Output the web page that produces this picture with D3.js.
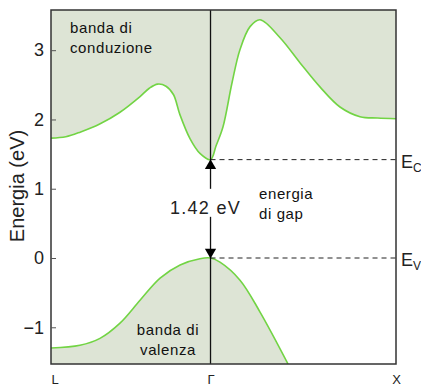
<!DOCTYPE html>
<html lang="it">
<head>
    <meta charset="UTF-8">
    <script src="https://cdn.jsdelivr.net/npm/d3@7/dist/d3.min.js"></script>
    <title>bande GaAs</title>
    <style>
        body { margin: 0; background: #fff; }
        text { font-family: "Liberation Sans", Arial, sans-serif; }
    </style>
</head>
<body>
<script>

    // vettore d'onda: L = -0.86, Gamma = 0, X = 1
    let kTicks = [-0.86, 0, 1],
        kLabels = ["L", "Γ", "X"],
        eTicks = [-1, 0, 1, 2, 3]

    let condK = [-0.86, -0.78, -0.70, -0.60, -0.49, -0.38, -0.33, -0.285, -0.24, -0.20, -0.165, -0.11, -0.057, 0,
        0.03, 0.067, 0.116, 0.159, 0.213, 0.267, 0.375, 0.482, 0.59, 0.698, 0.806, 0.9, 1.0]
    let condE = [1.73, 1.75, 1.82, 1.93, 2.1, 2.33, 2.45, 2.51, 2.48, 2.36, 2.07, 1.72, 1.51, 1.42,
        1.62, 1.89, 2.53, 3.01, 3.34, 3.44, 3.18, 2.82, 2.47, 2.18, 2.04, 2.02, 2.01]

    let valK = [-0.86, -0.704, -0.596, -0.488, -0.38, -0.272, -0.164, -0.057, 0, 0.051, 0.159, 0.267, 0.418]
    let valE = [-1.3, -1.26, -1.16, -0.94, -0.61, -0.29, -0.1, -0.01, 0, -0.06, -0.32, -0.78, -1.53]

    let Ec = 1.42, Ev = 0

    let width = 421, height = 387,
        pL = 51, pR = 396, pT = 10, pB = 364

    let x = d3.scaleLinear().domain([-0.86, 1]).range([pL, pR]),
        y = d3.scaleLinear().domain([-1.53, 3.58]).range([pB, pT])

    let cond = condK.map((k, i) => ({k: k, e: condE[i]})),
        val = valK.map((k, i) => ({k: k, e: valE[i]}))

    let svg = d3.select("body").append("svg")
        .attr("width", width)
        .attr("height", height)

    svg.append("defs").append("clipPath").attr("id", "plot")
        .append("rect")
        .attr("x", pL).attr("y", pT)
        .attr("width", pR - pL).attr("height", pB - pT)

    let g = svg.append("g").attr("clip-path", "url(#plot)")

    let fillCol = "#dde4d5", lineCol = "#72d444"

    let curve = d3.curveCatmullRom.alpha(0.5)

    g.append("path")
        .datum(cond)
        .attr("d", d3.area().curve(curve).x(d => x(d.k)).y0(pT).y1(d => y(d.e)))
        .attr("fill", fillCol)

    g.append("path")
        .datum(val)
        .attr("d", d3.area().curve(curve).x(d => x(d.k)).y0(pB).y1(d => y(d.e)))
        .attr("fill", fillCol)

    g.selectAll("path.band")
        .data([cond, val])
        .enter()
        .append("path")
        .attr("class", "band")
        .attr("d", d3.line().curve(curve).x(d => x(d.k)).y(d => y(d.e)))
        .attr("fill", "none")
        .attr("stroke", lineCol)
        .attr("stroke-width", 1.6)

    // linee tratteggiate Ec, Ev
    svg.selectAll("line.lev")
        .data([Ec, Ev])
        .enter()
        .append("line")
        .attr("x1", x(0)).attr("x2", pR)
        .attr("y1", d => y(d)).attr("y2", d => y(d))
        .attr("stroke", "#222")
        .attr("stroke-dasharray", "5,4")

    // linea Gamma
    svg.append("line")
        .attr("x1", x(0)).attr("x2", x(0))
        .attr("y1", pT).attr("y2", pB)
        .attr("stroke", "#111")
        .attr("stroke-width", 1.3)

    // frecce
    let tri = d3.symbol().type(d3.symbolTriangle).size(55)
    svg.append("path")
        .attr("d", tri())
        .attr("transform", `translate(${x(0)},${y(Ec) + 6})`)
        .attr("fill", "#000")
    svg.append("path")
        .attr("d", tri())
        .attr("transform", `translate(${x(0)},${y(Ev) - 6}) rotate(180)`)
        .attr("fill", "#000")

    // etichetta gap
    let gapY = (y(Ec) + y(Ev)) / 2
    svg.append("rect")
        .attr("x", x(0) - 4).attr("y", gapY - 20)
        .attr("width", 8).attr("height", 28)
        .attr("fill", "#fff")
    svg.append("text")
        .attr("x", x(0) - 5).attr("y", gapY + 5)
        .attr("text-anchor", "middle")
        .attr("font-size", 18)
        .attr("letter-spacing", 1.3)
        .attr("fill", "#222")
        .text("1.42 eV")

    // bordo
    svg.append("rect")
        .attr("x", pL).attr("y", pT)
        .attr("width", pR - pL).attr("height", pB - pT)
        .attr("fill", "none")
        .attr("stroke", "#333")
        .attr("stroke-width", 1.5)

    // assi
    let yAxis = svg.append("g")
        .attr("transform", `translate(${pL},0)`)
        .call(d3.axisLeft(y).tickValues(eTicks).tickSizeInner(-5).tickSizeOuter(0).tickPadding(7)
            .tickFormat(d => d < 0 ? "\u2212" + Math.abs(d) : d))
    yAxis.select(".domain").remove()
    yAxis.selectAll("line").attr("stroke", "#555")
    yAxis.selectAll("text")
        .attr("font-size", 18)
        .attr("font-family", "Liberation Sans, Arial, sans-serif")
        .attr("fill", "#222")

    let xAxis = svg.append("g")
        .attr("transform", `translate(0,${pB})`)
        .call(d3.axisBottom(x).tickValues(kTicks).tickSize(0).tickPadding(11)
            .tickFormat((d, i) => kLabels[i]))
    xAxis.select(".domain").remove()
    xAxis.selectAll("text")
        .attr("font-size", 13)
        .attr("font-family", "DejaVu Sans, sans-serif")
        .attr("fill", "#222")
        .attr("text-anchor", (d, i) => i === 0 ? "start" : "middle")

    svg.append("text")
        .attr("transform", `translate(24,${186}) rotate(-90)`)
        .attr("text-anchor", "middle")
        .attr("font-size", 20)
        .attr("fill", "#222")
        .text("Energia (eV)")

    // testi
    function lines(tx, ty, arr, anchor) {
        let t = svg.append("text")
            .attr("x", tx).attr("y", ty)
            .attr("text-anchor", anchor)
            .attr("font-size", 15)
            .attr("letter-spacing", 0.6)
            .attr("fill", "#111")
        arr.forEach((s, i) => {
            t.append("tspan").attr("x", tx).attr("dy", i ? 20 : 0).text(s)
        })
    }
    lines(70, 33, ["banda di", "conduzione"], "start")
    lines(168, 335, ["banda di", "valenza"], "middle")
    lines(259, 199, ["energia", "di gap"], "start")

    svg.selectAll("text.lev")
        .data([["E", "C", Ec], ["E", "V", Ev]])
        .enter()
        .append("text")
        .attr("class", "lev")
        .attr("x", 401)
        .attr("y", d => y(d[2]) + 8)
        .attr("font-size", 18)
        .attr("fill", "#222")
        .each(function (d) {
            d3.select(this).append("tspan").text(d[0])
            d3.select(this).append("tspan").attr("font-size", 12).attr("dy", 4).text(d[1])
        })

</script>
</body>
</html>
